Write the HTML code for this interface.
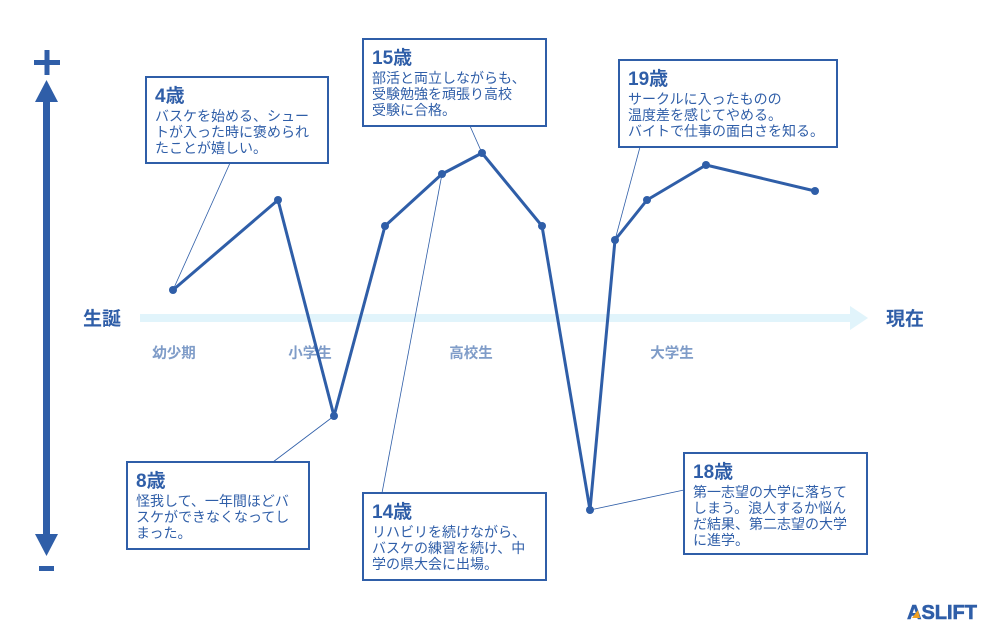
<!DOCTYPE html>
<html><head><meta charset="utf-8"><style>
html,body{margin:0;padding:0;background:#fff;}
svg{display:block;font-family:"Liberation Sans","Noto Sans CJK JP",sans-serif;}
</style></head><body>
<svg width="991" height="630" viewBox="0 0 991 630">
<!-- vertical axis -->
<rect x="43" y="100" width="7" height="440" fill="#2f5ea8"/>
<polygon points="46.5,80 35,102 58,102" fill="#2f5ea8"/>
<polygon points="46.5,556 35,534 58,534" fill="#2f5ea8"/>
<rect x="34" y="60" width="26" height="5" fill="#2f5ea8"/>
<rect x="44.5" y="50" width="5" height="25" fill="#2f5ea8"/>
<rect x="39" y="566" width="15" height="5" fill="#2f5ea8"/>
<!-- horizontal arrow -->
<rect x="140" y="314" width="712" height="8" fill="#e1f4fb"/>
<polygon points="868,318 850,306 850,330" fill="#e1f4fb"/>
<text x="102" y="325" font-size="19" font-weight="bold" fill="#2f5ea8" text-anchor="middle">生誕</text>
<text x="905" y="325" font-size="19" font-weight="bold" fill="#2f5ea8" text-anchor="middle">現在</text>
<g font-size="14.5" font-weight="bold" fill="#7f9cc8" text-anchor="middle">
<text x="174" y="358">幼少期</text><text x="310" y="358">小学生</text><text x="471" y="358">高校生</text><text x="672" y="358">大学生</text>
</g>
<!-- connectors -->
<g stroke="#2f5ea8" stroke-width="0.8" fill="none">
<line x1="230" y1="163" x2="173" y2="290"/>
<line x1="470" y1="126" x2="482" y2="153"/>
<line x1="273" y1="462" x2="334" y2="416"/>
<line x1="382" y1="493" x2="442" y2="174"/>
<line x1="684" y1="490" x2="590" y2="510"/>
<line x1="640" y1="147" x2="615" y2="240"/>
</g>
<polyline points="173,290 278,200 334,416 385,226 442,174 482,153 542,226 590,510 615,240 647,200 706,165 815,191" fill="none" stroke="#2f5ea8" stroke-width="3" stroke-linejoin="round"/>
<g fill="#2f5ea8">
<circle cx="173" cy="290" r="4"/><circle cx="278" cy="200" r="4"/><circle cx="334" cy="416" r="4"/><circle cx="385" cy="226" r="4"/><circle cx="442" cy="174" r="4"/><circle cx="482" cy="153" r="4"/><circle cx="542" cy="226" r="4"/><circle cx="590" cy="510" r="4"/><circle cx="615" cy="240" r="4"/><circle cx="647" cy="200" r="4"/><circle cx="706" cy="165" r="4"/><circle cx="815" cy="191" r="4"/>
</g>
<g fill="#fff" stroke="#2f5ea8" stroke-width="2">
<rect x="146" y="77" width="182" height="86"/>
<rect x="363" y="39" width="183" height="87"/>
<rect x="619" y="60" width="218" height="87"/>
<rect x="127" y="462" width="182" height="87"/>
<rect x="363" y="493" width="183" height="87"/>
<rect x="684" y="453" width="183" height="101"/>
</g>
<g fill="#2f5ea8" font-size="14">
<text x="155" y="102" font-size="19" font-weight="bold">4歳</text>
<text x="155" y="121">バスケを始める、シュー</text><text x="155" y="137">トが入った時に褒められ</text><text x="155" y="153">たことが嬉しい。</text>

<text x="372" y="64" font-size="19" font-weight="bold">15歳</text>
<text x="372" y="83">部活と両立しながらも、</text><text x="372" y="99">受験勉強を頑張り高校</text><text x="372" y="115">受験に合格。</text>

<text x="628" y="85" font-size="19" font-weight="bold">19歳</text>
<text x="628" y="104">サークルに入ったものの</text><text x="628" y="120">温度差を感じてやめる。</text><text x="628" y="136">バイトで仕事の面白さを知る。</text>

<text x="136" y="487" font-size="19" font-weight="bold">8歳</text>
<text x="136" y="506">怪我して、一年間ほどバ</text><text x="136" y="522">スケができなくなってし</text><text x="136" y="538">まった。</text>

<text x="372" y="518" font-size="19" font-weight="bold">14歳</text>
<text x="372" y="537">リハビリを続けながら、</text><text x="372" y="553">バスケの練習を続け、中</text><text x="372" y="569">学の県大会に出場。</text>

<text x="693" y="478" font-size="19" font-weight="bold">18歳</text>
<text x="693" y="497">第一志望の大学に落ちて</text><text x="693" y="513">しまう。浪人するか悩ん</text><text x="693" y="529">だ結果、第二志望の大学</text><text x="693" y="545">に進学。</text>
</g>
<text x="907" y="619" font-size="20" font-weight="900" fill="#2f5ea8" stroke="#2f5ea8" stroke-width="0.6">ASLIFT</text>
<polygon points="912,618 918,610 920,618" fill="#f0a020"/>
</svg>
</body></html>
